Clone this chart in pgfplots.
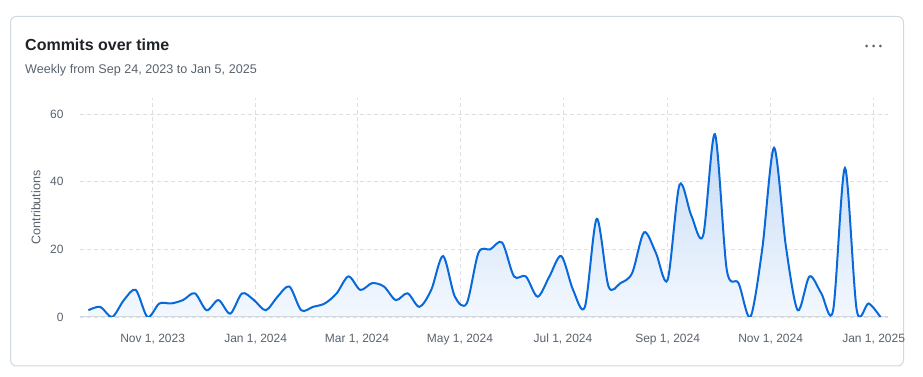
\documentclass[border=0pt]{standalone}
\usepackage{fontspec}
\setmainfont{Liberation Sans}
\usepackage{pgfplots}
\usepackage{pgfplotstable}
\pgfplotsset{compat=1.18}
\definecolor{lineblue}{HTML}{0969DA}
\definecolor{fillblue}{HTML}{C4DAF5}
\definecolor{fillbottom}{HTML}{F6FAFF}
\definecolor{cardborder}{HTML}{D1D9E0}
\definecolor{textgray}{HTML}{59636E}
\definecolor{titlecol}{HTML}{1F2328}
\definecolor{gridgray}{HTML}{DCE0E5}
\definecolor{axisgray}{HTML}{D1D9E0}
% day offset from Sep 24, 2023 ; commits
\pgfplotstableread{
day commits
0 2
7 3
14 0
21 5
28 8
35 0
42 4
49 4
56 5
63 7
70 2
77 5
84 1
91 7
98 5
105 2
112 6
119 9
126 2
133 3
140 4
147 7
154 12
161 8
168 10
175 9
182 5
189 7
196 3
203 8
210 18
217 6
224 4
231 19
238 20
245 22
252 12
259 12
266 6
273 12
280 18
287 8
294 3
301 29
308 9
315 10
322 13
329 25
336 19
343 11
350 39
357 30
364 24
371 54
378 14
385 10
392 0
399 20
406 50
413 21
420 2
427 12
434 7
441 2
448 44
455 2
462 4
469 0
}\commits
\begin{document}
\begin{tikzpicture}[x=1pt,y=1pt]
\fill[white] (0,0) rectangle (923,377);
\draw[cardborder, line width=1pt, rounded corners=6pt] (10.5,360.5) rectangle (903.5,11);
\node[anchor=base west, inner sep=0, text=titlecol, font=\fontsize{16}{18}\selectfont\bfseries] at (25,326) {Commits over time};
\node[anchor=base west, inner sep=0, text=textgray, font=\fontsize{12.6}{14}\selectfont] at (25,303.5) {Weekly from Sep 24, 2023 to Jan 5, 2025};
\foreach \dx in {866.7,873.5,880.3} \fill[textgray] (\dx,331) circle (1.5);
\node[rotate=90, text=textgray, font=\fontsize{12.5}{14}\selectfont] at (36,169.5) {Contributions};
\begin{axis}[
  at={(80pt,60pt)}, anchor=south west,
  scale only axis, width=808pt, height=219pt,
  xmin=-5, xmax=473.5, ymin=0, ymax=64.7,
  axis line style={draw=none},
  xtick={38,99,159,220,281,343,404,465},
  xticklabels={{Nov 1, 2023},{Jan 1, 2024},{Mar 1, 2024},{May 1, 2024},{Jul 1, 2024},{Sep 1, 2024},{Nov 1, 2024},{Jan 1, 2025}},
  ytick={0,20,40,60},
  major tick length=0pt,
  xmajorgrids, ymajorgrids,
  grid style={gridgray, line width=0.8pt, dash pattern=on 4pt off 3pt},
  tick label style={text=textgray, font=\fontsize{12}{14}\selectfont},
  xticklabel style={text height=9pt, text depth=3pt},
  /pgf/number format/assume math mode=true,
  xticklabel shift=13pt,
  yticklabel shift=13pt,
  clip=true,
]
\addplot[draw=none, top color=fillblue, bottom color=fillbottom, smooth] table[x=day,y=commits] {\commits} \closedcycle;
\draw[axisgray, line width=1pt] (axis cs:-5,0) -- (axis cs:473.5,0);
\addplot[lineblue, line width=2pt, smooth, no markers] table[x=day,y=commits] {\commits};
\end{axis}
\end{tikzpicture}
\end{document}
